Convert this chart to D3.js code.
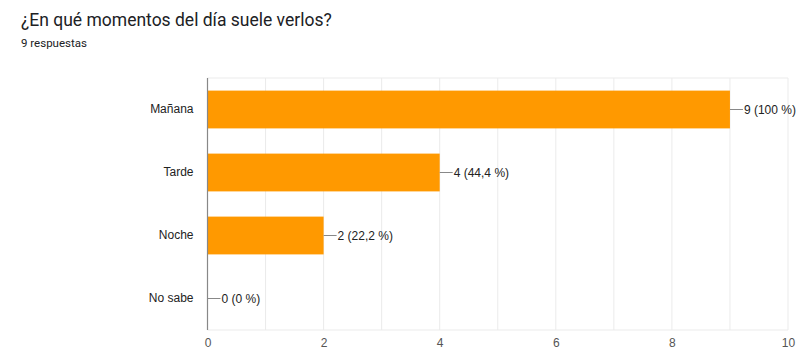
<!DOCTYPE html>
<html><head><meta charset="utf-8">
<script src="https://cdn.jsdelivr.net/npm/d3@7"></script>
<style>body{margin:0;background:#fff;}svg{display:block;}</style>
</head><body>
<svg id="c" width="811" height="354"></svg>
<script>
const categories = ["Mañana", "Tarde", "Noche", "No sabe"];
const values = [9, 4, 2, 0];
const valueLabels = ["9 (100 %)", "4 (44,4 %)", "2 (22,2 %)", "0 (0 %)"];
const xTicks = [0, 2, 4, 6, 8, 10];
const gridValues = [1,2,3,4,5,6,7,8,9,10];

(function () {
const svg = d3.select("#c");
const pL = 207.5, pR = 788, pT = 78, pB = 330;
const x = d3.scaleLinear().domain([0, 10]).range([pL, pR]);
const y = d3.scaleBand().domain(categories).range([pT, pB]).paddingInner(0.4).paddingOuter(0.2);

svg.append("text").attr("x", 21).attr("y", 26).attr("font-family", "Roboto, sans-serif")
  .attr("font-size", 17.5).attr("fill", "#202124").text("¿En qué momentos del día suele verlos?");
svg.append("text").attr("x", 21).attr("y", 47).attr("font-family", "Roboto, sans-serif")
  .attr("font-size", 11.5).attr("fill", "#202124").text("9 respuestas");

svg.append("g").selectAll("line").data(gridValues).join("line")
  .attr("x1", d => x(d)).attr("x2", d => x(d)).attr("y1", pT).attr("y2", pB)
  .attr("stroke", "#ebebeb").attr("stroke-width", 1);
svg.append("line").attr("x1", pL).attr("x2", pR).attr("y1", pT).attr("y2", pT).attr("stroke", "#ebebeb");
svg.append("line").attr("x1", pL).attr("x2", pR).attr("y1", pB).attr("y2", pB).attr("stroke", "#ebebeb");

svg.append("g").selectAll("rect").data(values).join("rect")
  .attr("x", x(0)).attr("y", (d, i) => y(categories[i]))
  .attr("width", d => x(d) - x(0)).attr("height", y.bandwidth())
  .attr("fill", "#ff9900");

svg.append("line").attr("x1", pL).attr("x2", pL).attr("y1", pT).attr("y2", pB)
  .attr("stroke", "#888").attr("stroke-width", 1.2);

const xAxis = d3.axisBottom(x).tickValues(xTicks).tickSize(0).tickPadding(8);
const gx = svg.append("g").attr("transform", `translate(0,${pB})`).call(xAxis);
gx.select(".domain").remove();
gx.selectAll("text").attr("font-family", "Arial, 'Liberation Sans', sans-serif").attr("font-size", 12).attr("fill", "#555");

const yAxis = d3.axisLeft(y).tickSize(0).tickPadding(14);
const gy = svg.append("g").attr("transform", `translate(${pL},0)`).call(yAxis);
gy.select(".domain").remove();
gy.selectAll("text").attr("font-family", "Arial, 'Liberation Sans', sans-serif").attr("font-size", 12).attr("fill", "#222");

const lab = svg.append("g").selectAll("g").data(values).join("g");
lab.append("line").attr("x1", d => x(d)).attr("x2", d => x(d) + 13)
  .attr("y1", (d, i) => y(categories[i]) + y.bandwidth() / 2)
  .attr("y2", (d, i) => y(categories[i]) + y.bandwidth() / 2)
  .attr("stroke", "#888").attr("stroke-width", 1);
lab.append("text").attr("x", d => x(d) + 14)
  .attr("y", (d, i) => y(categories[i]) + y.bandwidth() / 2).attr("dy", "0.35em")
  .attr("font-family", "Arial, 'Liberation Sans', sans-serif").attr("font-size", 12).attr("fill", "#222")
  .text((d, i) => valueLabels[i]);
})();
</script>
</body></html>
